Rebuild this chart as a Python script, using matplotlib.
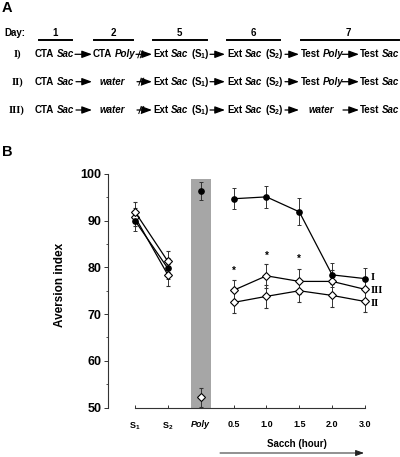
import matplotlib
matplotlib.use("Agg")
import matplotlib.pyplot as plt
from matplotlib.patches import FancyArrowPatch, Rectangle
from matplotlib.lines import Line2D
from matplotlib import font_manager
import numpy as np

plt.rcParams['font.family'] = ['Liberation Sans', 'DejaVu Sans']
plt.rcParams['mathtext.fontset'] = 'custom'
plt.rcParams['mathtext.rm'] = 'Liberation Sans'
plt.rcParams['mathtext.bf'] = 'Liberation Sans:bold'
plt.rcParams['mathtext.it'] = 'Liberation Sans:italic'

# ---------------- data ----------------
categories = ['S$_\\mathbf{1}$', 'S$_\\mathbf{2}$', 'Poly', '0.5', '1.0', '1.5', '2.0', '3.0']
xpos = np.arange(len(categories))

# Group I (filled)
I_ext = [90.0, 79.8]
I_ext_err = [2.1, 2.2]
I_poly = 96.4
I_poly_err = 1.9
I_sac = [94.7, 95.1, 91.9, 78.4, 77.6]
I_sac_err = [2.2, 2.4, 2.9, 2.5, 2.2]

# Group II (open, lower)
II_ext = [90.8, 78.4]
II_ext_err = [2.0, 2.3]
II_poly = 52.2
II_poly_err = 2.0
II_sac = [72.5, 73.8, 75.0, 74.0, 72.7]
II_sac_err = [2.2, 2.4, 2.4, 2.5, 2.2]

# Group III (open, upper)
III_ext = [91.9, 81.3]
III_ext_err = [2.2, 2.3]
III_sac = [75.1, 78.2, 77.0, 77.0, 75.3]
III_sac_err = [2.2, 2.6, 2.7, 2.5, 2.5]

star_x = ['0.5', '1.0', '1.5']
star_y = [79.2, 82.5, 81.8]

group_labels = ['I', 'III', 'II']
group_label_y = [77.8, 75.0, 72.2]

W, H = 400, 457
fig = plt.figure(figsize=(W / 100, H / 100), dpi=100)
renderer = fig.canvas.get_renderer()


def fx(x):
    return x / W


def fy(y):
    return 1 - y / H


# ---------------- panel B ----------------
ax_l, ax_r, ax_t, ax_b = 107.5, 365, 174, 407.5
ax = fig.add_axes([fx(ax_l), fy(ax_b), (ax_r - ax_l) / W, (ax_b - ax_t) / H])
x0 = -(135 - ax_l) / ((365 - 135) / 7.0)
ax.set_xlim(x0, 7)
ax.set_ylim(50, 100)
for s in ['top', 'right']:
    ax.spines[s].set_visible(False)
ax.spines['bottom'].set_bounds(0, 7)
for s in ['left', 'bottom']:
    ax.spines[s].set_linewidth(0.8)
    ax.spines[s].set_color('#333333')

poly_i = categories.index('Poly')
ax.add_patch(Rectangle((poly_i - 0.3, 50), 0.6, 48.9, facecolor='#a6a6a6',
                       edgecolor='none', zorder=0))

ext_x = xpos[:2]
sac_x = xpos[3:]
ekw = dict(ecolor='#333333', elinewidth=0.7, capsize=1.5, capthick=0.7)

open_kw = dict(marker='D', ms=3.6, mfc='white', mec='black', mew=0.8,
               color='black', lw=0.9)
filled_kw = dict(marker='o', ms=3.8, mfc='black', mec='black',
                 color='black', lw=0.9)


def eb(xv, yv, ev, kw):
    cont = ax.errorbar(xv, yv, yerr=ev, zorder=3, **ekw, **kw)
    for a in cont.get_children():
        a.set_clip_on(False)


for yv, ev, kw in [(II_ext, II_ext_err, open_kw), (III_ext, III_ext_err, open_kw),
                   (I_ext, I_ext_err, filled_kw)]:
    eb(ext_x, yv, ev, kw)

for yv, ev, kw in [(II_sac, II_sac_err, open_kw), (III_sac, III_sac_err, open_kw),
                   (I_sac, I_sac_err, filled_kw)]:
    eb(sac_x, yv, ev, kw)

eb([poly_i], [I_poly], [I_poly_err], filled_kw)
eb([poly_i], [II_poly], [II_poly_err], open_kw)

for c, yv in zip(star_x, star_y):
    ax.text(categories.index(c), yv, '*', ha='center', va='center',
            fontsize=7, fontweight='bold')

for lab, yv in zip(group_labels, group_label_y):
    ax.text(7.18, yv, lab, ha='left', va='center', fontsize=7.5,
            fontweight='bold', family=['Liberation Serif'], clip_on=False)

ax.set_yticks([50, 60, 70, 80, 90, 100])
ax.set_yticks(np.arange(55, 100, 10), minor=True)
ax.tick_params(axis='y', which='major', direction='out', length=3, width=0.7,
               labelsize=9, pad=1.5, color='#333333')
ax.tick_params(axis='y', which='minor', direction='out', length=1.5, width=0.6,
               color='#333333')
for t in ax.get_yticklabels():
    t.set_fontweight('bold')

ax.set_xticks(xpos)
ax.set_xticklabels(categories)
ax.tick_params(axis='x', direction='in', length=2.5, width=0.7, labelsize=6.5,
               pad=9, color='#333333')
for t in ax.get_xticklabels():
    t.set_fontweight('bold')
    if t.get_text() == 'Poly':
        t.set_fontstyle('italic')

fig.text(fx(60), fy(285), 'Aversion index', rotation=90, ha='center',
         va='center', fontsize=8.5, fontweight='bold')
fig.text(fx(297), fy(444), 'Sacch (hour)', ha='center', va='center',
         fontsize=7, fontweight='bold')
fig.add_artist(FancyArrowPatch((fx(220), fy(453)), (fx(364), fy(453)),
                               transform=fig.transFigure,
                               arrowstyle='-|>,head_length=0.5,head_width=0.18',
                               mutation_scale=10, lw=0.7, color='#222222',
                               shrinkA=0, shrinkB=0))

fig.text(fx(2), fy(152), 'B', ha='left', va='center', fontsize=10.5,
         fontweight='bold')
fig.text(fx(2), fy(8), 'A', ha='left', va='center', fontsize=10.5,
         fontweight='bold')

# ---------------- panel A ----------------
try:
    font_manager.findfont('Liberation Sans Narrow:bold', fallback_to_default=False)
    A_FAMILY = ['Liberation Sans Narrow', 'Liberation Sans']
except Exception:
    A_FAMILY = ['Liberation Sans']

# calibrate font size so that "CTA Sac" spans ~39 px as in the reference
_probe = fig.text(0, 0, 'CTA Sac', fontsize=10, fontweight='bold',
                  family=A_FAMILY)
_w = _probe.get_window_extent(renderer).width
_probe.remove()
FS = 10 * 39.0 / _w
SPACE = FS * 0.278 * 100 / 72 * (0.82 if 'Narrow' in A_FAMILY[0] else 1.0)


def rich(x, y, words):
    cur = x
    for w, it in words:
        t = fig.text(fx(cur), fy(y), w, ha='left', va='center', fontsize=FS,
                     fontweight='bold', fontstyle='italic' if it else 'normal',
                     family=A_FAMILY)
        bb = t.get_window_extent(renderer)
        cur += bb.width + SPACE


def arrow(xa, xb, y, broken=False):
    fig.add_artist(FancyArrowPatch((fx(xa), fy(y)), (fx(xb), fy(y)),
                                   transform=fig.transFigure,
                                   arrowstyle='-|>,head_length=0.6,head_width=0.22',
                                   mutation_scale=10, lw=0.9, color='black',
                                   shrinkA=0, shrinkB=0))
    if broken:
        for xc in (xa + 3.0, xa + 5.5):
            fig.add_artist(Line2D([fx(xc - 1.2), fx(xc + 1.2)],
                                  [fy(y + 3.5), fy(y - 3.5)],
                                  transform=fig.transFigure, lw=0.7,
                                  color='black'))


day_labels = ['1', '2', '5', '6', '7']
day_centers = [55, 113, 179, 253, 348]
day_lines = [(39, 72), (94, 133), (153, 207), (227, 280), (301, 399)]
fig.text(fx(4), fy(33), 'Day:', ha='left', va='center', fontsize=FS,
         fontweight='bold', family=A_FAMILY)
for lab, cx, (la, lb) in zip(day_labels, day_centers, day_lines):
    fig.text(fx(cx), fy(32.5), lab, ha='center', va='center', fontsize=FS,
             fontweight='bold', family=A_FAMILY)
    fig.add_artist(Line2D([fx(la), fx(lb)], [fy(39.5), fy(39.5)],
                          transform=fig.transFigure, lw=1.4, color='black'))

row_labels = ['I)', 'II)', 'III)']
row_y = [54.3, 81.7, 110]
for lab, yv in zip(row_labels, row_y):
    fig.text(fx(17), fy(yv), lab, ha='center', va='center', fontsize=7.5,
             fontweight='bold', family=['Liberation Serif'])

S1 = '(S$_\\mathbf{1}$)'
S2 = '(S$_\\mathbf{2}$)'
for r, yv in enumerate(row_y):
    rich(35, yv, [('CTA', False), ('Sac', True)])
    if r == 0:
        arrow(75, 92, yv)
        rich(93, yv, [('CTA', False), ('Poly', True)])
        arrow(136, 152, yv, broken=True)
    else:
        arrow(76, 92, yv)
        rich(100, yv, [('water', True)])
        arrow(137, 152, yv, broken=True)
    rich(153, yv, [('Ext', False), ('Sac', True), (S1, False)])
    arrow(210, 225, yv)
    rich(227, yv, [('Ext', False), ('Sac', True), (S2, False)])
    arrow(285, 299, yv)
    if r < 2:
        rich(301, yv, [('Test', False), ('Poly', True)])
        arrow(342, 359, yv)
    else:
        rich(309, yv, [('water', True)])
        arrow(343, 359, yv)
    rich(360, yv, [('Test', False), ('Sac', True)])

fig.savefig('out.png', dpi=100)
